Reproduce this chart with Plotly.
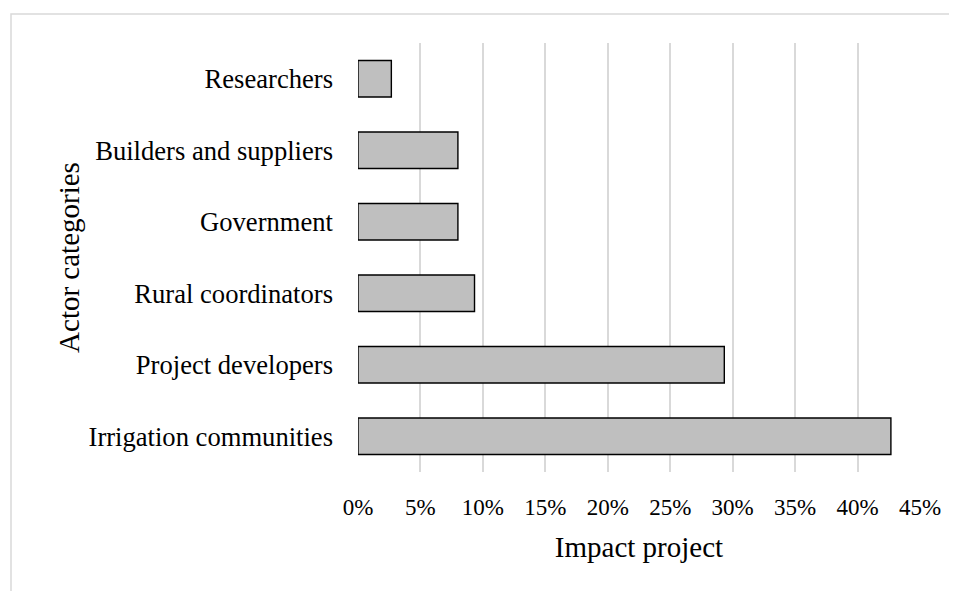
import plotly.graph_objects as go

categories = ["Irrigation communities", "Project developers", "Rural coordinators",
              "Government", "Builders and suppliers", "Researchers"]
impact_pct = [42.67, 29.33, 9.33, 8.0, 8.0, 2.67]
x_ticks = [0, 5, 10, 15, 20, 25, 30, 35, 40, 45]
x_tick_labels = [f"{v}%" for v in x_ticks]

# page body has an 8px margin; compensate so the figure fills the 957x591 window
BODY = 8
W, H = 957 - BODY, 591 - BODY
ML, MR, MT, MB = 358 - BODY, 37, 43 - BODY, 118.5
FONT = "Liberation Serif"

fig = go.Figure(go.Bar(
    y=categories, x=impact_pct, orientation="h",
    marker=dict(color="#bfbfbf", line=dict(color="#000000", width=1.4)),
    hoverinfo="x+y",
))

pw = W - ML - MR
ph = H - MT - MB
x0 = (11 - BODY - ML) / pw
x1 = (W + 10 - ML) / pw
y1 = (H - MB - (14 - BODY)) / ph
y0 = (H - MB - (H + 10)) / ph

fig.update_layout(
    width=W, height=H,
    margin=dict(l=ML, r=MR, t=MT, b=MB, pad=0),
    paper_bgcolor="white", plot_bgcolor="white",
    font=dict(family=FONT, size=26, color="#000000"),
    bargap=0.49,
    showlegend=False,
    shapes=[dict(type="rect", xref="paper", yref="paper",
                 x0=x0, x1=x1, y0=y0, y1=y1,
                 line=dict(color="#d9d9d9", width=1.5), fillcolor="rgba(0,0,0,0)",
                 layer="below")],
    xaxis=dict(
        range=[0, 45], tickvals=x_ticks, ticktext=x_tick_labels,
        tickfont=dict(size=23),
        showgrid=True, gridcolor="#d9d9d9", gridwidth=1.5,
        zeroline=False, showline=False, ticks="",
        ticklabelstandoff=19,
        title=dict(text="Impact project", font=dict(size=29), standoff=17),
        fixedrange=True,
    ),
    yaxis=dict(
        showgrid=False, zeroline=False, showline=False, ticks="",
        tickfont=dict(size=26.6),
        ticklabelstandoff=24,
        title=dict(text="Actor categories", font=dict(size=29), standoff=0),
        fixedrange=True,
    ),
)

fig.write_html("out.html")
